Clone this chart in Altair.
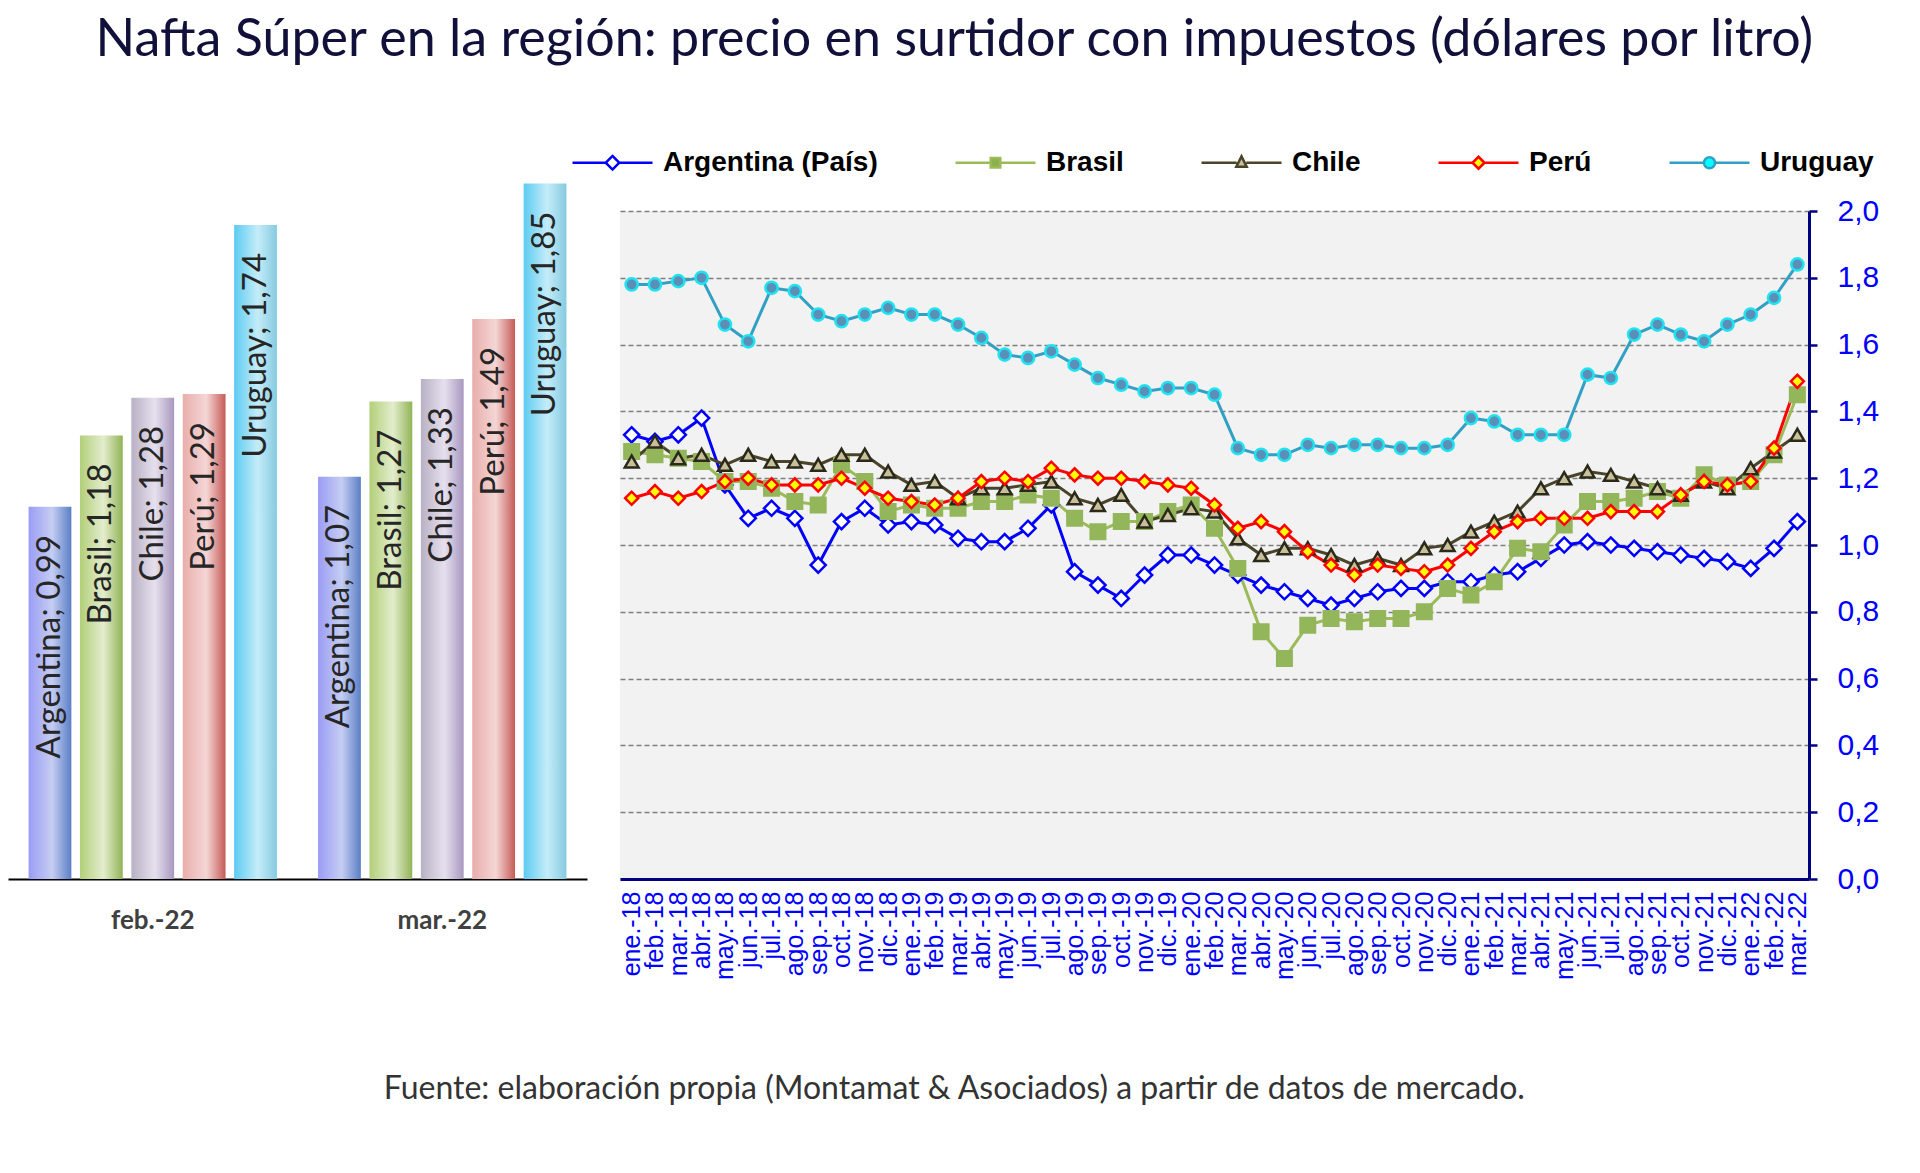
import altair as alt
import pandas as pd

# ---------------- data ----------------
months = [
    "ene.-18", "feb.-18", "mar.-18", "abr.-18", "may.-18", "jun.-18", "jul.-18", "ago.-18", "sep.-18", "oct.-18", "nov.-18", "dic.-18",
    "ene.-19", "feb.-19", "mar.-19", "abr.-19", "may.-19", "jun.-19", "jul.-19", "ago.-19", "sep.-19", "oct.-19", "nov.-19", "dic.-19",
    "ene.-20", "feb.-20", "mar.-20", "abr.-20", "may.-20", "jun.-20", "jul.-20", "ago.-20", "sep.-20", "oct.-20", "nov.-20", "dic.-20",
    "ene.-21", "feb.-21", "mar.-21", "abr.-21", "may.-21", "jun.-21", "jul.-21", "ago.-21", "sep.-21", "oct.-21", "nov.-21", "dic.-21",
    "ene.-22", "feb.-22", "mar.-22",
]

argentina = [1.33, 1.31, 1.33, 1.38, 1.18, 1.08, 1.11, 1.08, 0.94, 1.07, 1.11, 1.06,
             1.07, 1.06, 1.02, 1.01, 1.01, 1.05, 1.12, 0.92, 0.88, 0.84, 0.91, 0.97,
             0.97, 0.94, 0.91, 0.88, 0.86, 0.84, 0.82, 0.84, 0.86, 0.87, 0.87, 0.89,
             0.89, 0.91, 0.92, 0.96, 1.00, 1.01, 1.00, 0.99, 0.98, 0.97, 0.96, 0.95,
             0.93, 0.99, 1.07]
brasil = [1.28, 1.27, 1.26, 1.25, 1.19, 1.19, 1.17, 1.13, 1.12, 1.24, 1.19, 1.10,
          1.12, 1.11, 1.11, 1.13, 1.13, 1.15, 1.14, 1.08, 1.04, 1.07, 1.07, 1.10,
          1.12, 1.05, 0.93, 0.74, 0.66, 0.76, 0.78, 0.77, 0.78, 0.78, 0.80, 0.87,
          0.85, 0.89, 0.99, 0.98, 1.06, 1.13, 1.13, 1.14, 1.16, 1.14, 1.21, 1.18,
          1.19, 1.27, 1.45]
chile = [1.25, 1.31, 1.26, 1.27, 1.24, 1.27, 1.25, 1.25, 1.24, 1.27, 1.27, 1.22,
         1.18, 1.19, 1.14, 1.17, 1.17, 1.18, 1.19, 1.14, 1.12, 1.15, 1.07, 1.09,
         1.11, 1.10, 1.02, 0.97, 0.99, 0.99, 0.97, 0.94, 0.96, 0.94, 0.99, 1.00,
         1.04, 1.07, 1.10, 1.17, 1.20, 1.22, 1.21, 1.19, 1.17, 1.15, 1.19, 1.17,
         1.23, 1.28, 1.33]
peru = [1.14, 1.16, 1.14, 1.16, 1.19, 1.20, 1.18, 1.18, 1.18, 1.20, 1.17, 1.14,
        1.13, 1.12, 1.14, 1.19, 1.20, 1.19, 1.23, 1.21, 1.20, 1.20, 1.19, 1.18,
        1.17, 1.12, 1.05, 1.07, 1.04, 0.98, 0.94, 0.91, 0.94, 0.93, 0.92, 0.94,
        0.99, 1.04, 1.07, 1.08, 1.08, 1.08, 1.10, 1.10, 1.10, 1.15, 1.19, 1.18,
        1.19, 1.29, 1.49]
uruguay = [1.78, 1.78, 1.79, 1.80, 1.66, 1.61, 1.77, 1.76, 1.69, 1.67, 1.69, 1.71,
           1.69, 1.69, 1.66, 1.62, 1.57, 1.56, 1.58, 1.54, 1.50, 1.48, 1.46, 1.47,
           1.47, 1.45, 1.29, 1.27, 1.27, 1.30, 1.29, 1.30, 1.30, 1.29, 1.29, 1.30,
           1.38, 1.37, 1.33, 1.33, 1.33, 1.51, 1.50, 1.63, 1.66, 1.63, 1.61, 1.66,
           1.69, 1.74, 1.84]

series_names = ["Argentina (País)", "Brasil", "Chile", "Perú", "Uruguay"]
y_ticks = [0.0, 0.2, 0.4, 0.6, 0.8, 1.0, 1.2, 1.4, 1.6, 1.8, 2.0]

bar_periods = ["feb.-22", "mar.-22"]
bar_countries = ["Argentina", "Brasil", "Chile", "Perú", "Uruguay"]
bar_feb = [0.99, 1.18, 1.28, 1.29, 1.74]
bar_mar = [1.07, 1.27, 1.33, 1.49, 1.85]

title_text = "Nafta Súper en la región: precio en surtidor con impuestos (dólares por litro)"
source_text = "Fuente: elaboración propia (Montamat & Asociados) a partir de datos de mercado."

# ---------------- styles ----------------
line_colors = ["#0000ff", "#9bbb59", "#4a452a", "#ff0000", "#31a0c4"]
line_widths = [3, 3, 2.2, 3, 2.5]
marker_shapes = ["diamond", "square", "triangle-up", "diamond", "circle"]
marker_fills = ["#ffffff", "#93b65a", "#c8c09a", "#ffff00", "#5b8fb8"]
marker_strokes = ["#0000ff", "#93b65a", "#2b2a1a", "#ff0000", "#1fe3f0"]
marker_sizes = [230, 150, 150, 175, 210]
legend_fills = ["#ffffff", "#8db04f", "#c8c09a", "#ffff00", "#00ffff"]
legend_paths = [
    "M-1,0H-0.17M0.17,0H1M0,-0.17L0.17,0L0,0.17L-0.17,0Z",
    "M-1,0H-0.12M0.12,0H1M-0.12,-0.12H0.12V0.12H-0.12Z",
    "M-1,0H-0.12M0.12,0H1M0,-0.16L0.13,0.1L-0.13,0.1Z",
    "M-1,0H-0.15M0.15,0H1M0,-0.15L0.15,0L0,0.15L-0.15,0Z",
    "M-1,0H-0.14M0.14,0H1M-0.14,0A0.14,0.14,0,1,0,0.14,0A0.14,0.14,0,1,0,-0.14,0Z",
]
bar_gradients = {
    "Argentina": ["#9a9cf5", "#c5cdf2", "#5b7fc6"],
    "Brasil": ["#b2cf7a", "#e3edcd", "#92b356"],
    "Chile": ["#b8b0c4", "#e6e0ee", "#a898bf"],
    "Perú": ["#e8aeac", "#f4d6d5", "#c65b57"],
    "Uruguay": ["#5ccbf2", "#c4ecf8", "#86cbe0"],
}

# ---------------- tables ----------------
rows = []
for name, vals in zip(series_names, [argentina, brasil, chile, peru, uruguay]):
    for m, v in zip(months, vals):
        rows.append({"mes": m, "serie": name, "valor": v})
df_lines = pd.DataFrame(rows)

brows = []
for period, vals in zip(bar_periods, [bar_feb, bar_mar]):
    for c, v in zip(bar_countries, vals):
        brows.append({"periodo": period, "pais": c, "valor": v})
df_bars = pd.DataFrame(brows)

# ---------------- bar chart ----------------
bx = alt.X("periodo:N", sort=bar_periods, scale=alt.Scale(paddingInner=0, paddingOuter=0),
           axis=alt.Axis(title=None, labelAngle=0, labelFont="Lato", labelFontWeight="bold",
                         labelFontSize=26, labelColor="#404040", ticks=False, domainColor="#000000",
                         domainWidth=2, labelPadding=28))
bxo = alt.XOffset("pais:N", sort=bar_countries,
                  scale=alt.Scale(domain=bar_countries, paddingInner=0.167, paddingOuter=0.4))
by = alt.Y("valor:Q", scale=alt.Scale(domain=[0, 1.777], nice=False, zero=True), axis=None)

bar_base = alt.Chart(df_bars)
bar_layers = []
for c in bar_countries:
    g = bar_gradients[c]
    grad = {"gradient": "linear", "x1": 0, "x2": 1, "y1": 0, "y2": 0,
            "stops": [{"offset": 0, "color": g[0]}, {"offset": 0.55, "color": g[1]},
                      {"offset": 1, "color": g[2]}]}
    bar_layers.append(
        bar_base.transform_filter(alt.datum.pais == c).mark_bar(color=grad).encode(x=bx, xOffset=bxo, y=by)
    )

bar_text = bar_base.transform_calculate(
    label="datum.pais + '; ' + replace(format(datum.valor, '.2f'), '.', ',')"
).mark_text(angle=270, align="right", baseline="middle", dx=-28, font="Lato", fontSize=33,
            color="#262626").encode(x=bx, xOffset=bxo, y=by, text="label:N")

bar_chart = alt.layer(*bar_layers, bar_text).properties(width=579, height=668)

# ---------------- line chart ----------------
lx = alt.X("mes:O", sort=months, scale=alt.Scale(padding=0.5),
           axis=alt.Axis(title=None, labelAngle=270, labelFont="Liberation Sans", labelFontSize=25,
                         labelColor="#0000ff", ticks=False, domainColor="#000080", domainWidth=3,
                         labelPadding=12, labelOverlap=False, grid=False))
ly = alt.Y("valor:Q", scale=alt.Scale(domain=[0, 2], nice=False),
           axis=alt.Axis(title=None, orient="right", values=y_ticks,
                         labelExpr="replace(format(datum.value, '.1f'), '.', ',')",
                         labelFont="Liberation Sans", labelFontSize=30, labelColor="#0000ff",
                         labelPadding=20, tickSize=8, tickWidth=2.5, tickColor="#000080",
                         domainColor="#000080", domainWidth=3, grid=True, gridDash=[5, 3],
                         gridColor="#7f7f7f", gridWidth=1.5))

base = alt.Chart(df_lines)

lines = base.mark_line().encode(
    x=lx, y=ly,
    color=alt.Color("serie:N", scale=alt.Scale(domain=series_names, range=line_colors), legend=None),
    strokeWidth=alt.StrokeWidth("serie:N", scale=alt.Scale(domain=series_names, range=line_widths), legend=None),
)

points = base.mark_point(opacity=1, strokeWidth=2.5).encode(
    x=lx, y=ly,
    shape=alt.Shape("serie:N", scale=alt.Scale(domain=series_names, range=marker_shapes), legend=None),
    fill=alt.Fill("serie:N", scale=alt.Scale(domain=series_names, range=marker_fills), legend=None),
    stroke=alt.Stroke("serie:N", scale=alt.Scale(domain=series_names, range=marker_strokes), legend=None),
    size=alt.Size("serie:N", scale=alt.Scale(domain=series_names, range=marker_sizes), legend=None),
)

leg = alt.Legend(title=None, orient="none", legendX=-49, legendY=-90, direction="horizontal",
                 columns=5, symbolSize=6400, symbolStrokeWidth=2.5, labelFont="Liberation Sans",
                 labelFontWeight="bold", labelFontSize=28, labelColor="#000000", labelOffset=9,
                 labelLimit=0, columnPadding=72, padding=0)

legend_layer = base.transform_filter("datum.valor < 0").mark_point(opacity=1, strokeWidth=2.5).encode(
    x=lx, y=ly,
    shape=alt.Shape("serie:N", scale=alt.Scale(domain=series_names, range=legend_paths), legend=leg),
    fill=alt.Fill("serie:N", scale=alt.Scale(domain=series_names, range=legend_fills), legend=leg),
    stroke=alt.Stroke("serie:N", scale=alt.Scale(domain=series_names, range=line_colors), legend=leg),
)

line_chart = alt.layer(lines, points, legend_layer).resolve_scale(
    shape="independent", fill="independent", stroke="independent"
).properties(width=1189, height=668, view=alt.ViewBackground(fill="#f2f2f2", strokeWidth=0))

inner = alt.hconcat(bar_chart, line_chart, spacing=33, bounds="flush").properties(
    title=alt.TitleParams(source_text, orient="bottom", anchor="middle", font="Lato", fontSize=32,
                          fontWeight="normal", color="#333333", offset=95, dx=11)
)

chart = alt.vconcat(inner).properties(
    title=alt.TitleParams(title_text, anchor="middle", font="Lato", fontSize=52, fontWeight="normal",
                          color="#10103a", offset=54, dx=11),
    padding={"left": 0, "top": 6, "right": 5, "bottom": 5},
).configure_view(strokeWidth=0)

chart.save("out.html", embed_options={"renderer": "svg", "actions": False})
